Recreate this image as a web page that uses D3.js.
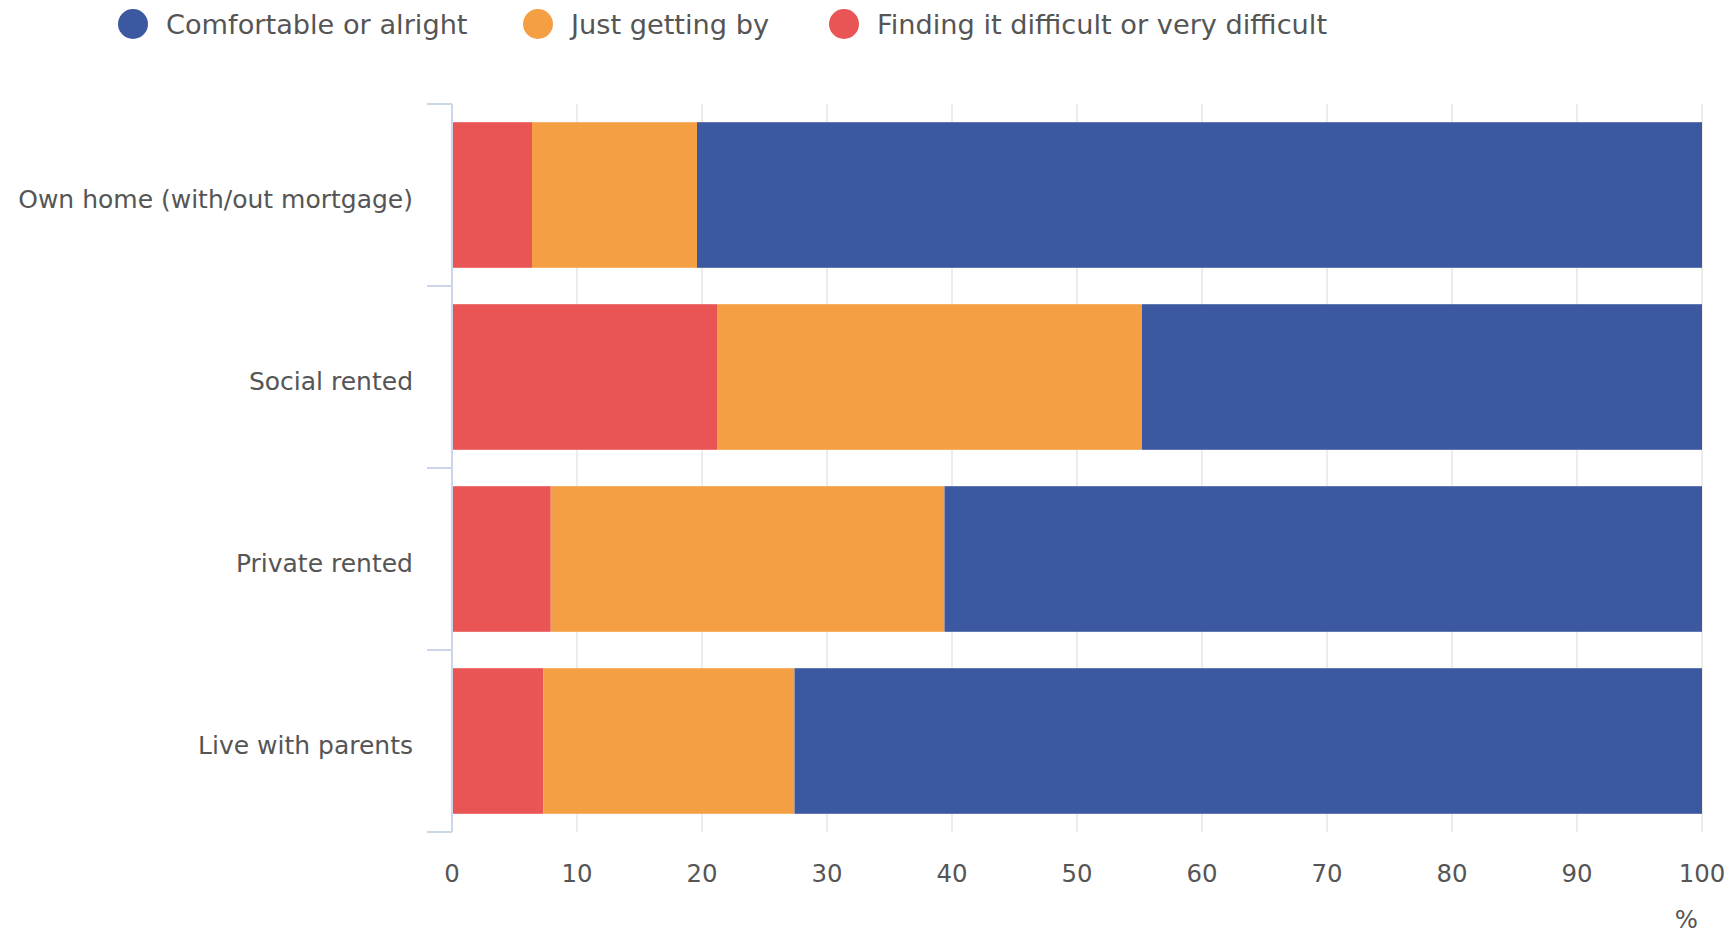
<!DOCTYPE html>
<html>
<head>
<meta charset="utf-8">
<script src="https://cdn.jsdelivr.net/npm/d3@7"></script>
<style>
  html, body { margin: 0; padding: 0; background: #fff; }
  svg { display: block; font-family: "DejaVu Sans", Verdana, sans-serif; }
</style>
</head>
<body>
<svg id="chart" width="1733" height="934"></svg>
<script>
// ---- data ----
const categories = ["Own home (with/out mortgage)", "Social rented", "Private rented", "Live with parents"];
const seriesNames = ["Finding it difficult or very difficult", "Just getting by", "Comfortable or alright"];
const difficult = [6.4, 21.2, 7.9, 7.3];
const gettingBy = [13.2, 34.0, 31.5, 20.1];
const comfortable = [80.4, 44.8, 60.6, 72.6];
const xTicks = [0, 10, 20, 30, 40, 50, 60, 70, 80, 90, 100];
const legendOrder = ["Comfortable or alright", "Just getting by", "Finding it difficult or very difficult"];
const colors = {
  "Comfortable or alright": "#3b58a0",
  "Just getting by": "#f59f45",
  "Finding it difficult or very difficult": "#e95454"
};

const svg = d3.select("#chart");
const textColor = "#555555";

const margin = { left: 452, right: 31, top: 104, bottom: 102 };
const W = 1733, H = 934;

const x = d3.scaleLinear().domain([0, 100]).range([margin.left, W - margin.right]);
const y = d3.scaleBand().domain(categories).range([margin.top, H - margin.bottom])
  .paddingInner(0.2).paddingOuter(0.1);

// grid
svg.append("g").selectAll("line").data(xTicks).join("line")
  .attr("x1", d => x(d)).attr("x2", d => x(d))
  .attr("y1", margin.top).attr("y2", H - margin.bottom)
  .attr("stroke", "#e6e6e6").attr("stroke-width", 1.5);

// stacked bars
const rows = categories.map((c, i) => ({
  category: c,
  "Finding it difficult or very difficult": difficult[i],
  "Just getting by": gettingBy[i],
  "Comfortable or alright": comfortable[i]
}));
const stack = d3.stack().keys(seriesNames)(rows);

svg.append("g").selectAll("g").data(stack).join("g")
  .attr("fill", s => colors[s.key])
  .selectAll("rect").data(s => s).join("rect")
  .attr("x", d => x(d[0]))
  .attr("width", d => x(d[1]) - x(d[0]))
  .attr("y", d => y(d.data.category))
  .attr("height", y.bandwidth());

// y axis line & ticks at band boundaries
const axisColor = "#ccd6eb";
svg.append("line")
  .attr("x1", margin.left).attr("x2", margin.left)
  .attr("y1", margin.top).attr("y2", H - margin.bottom)
  .attr("stroke", axisColor).attr("stroke-width", 2);
const boundaries = categories.map(c => y(c) - y.step() * y.paddingInner() / 2);
boundaries.push(H - margin.bottom);
boundaries[0] = margin.top;
svg.append("g").selectAll("line").data(boundaries).join("line")
  .attr("x1", margin.left - 25).attr("x2", margin.left)
  .attr("y1", d => d).attr("y2", d => d)
  .attr("stroke", axisColor).attr("stroke-width", 2);

// category labels
svg.append("g").selectAll("text").data(categories).join("text")
  .attr("x", 413)
  .attr("y", d => y(d) + y.bandwidth() / 2 + 6)
  .attr("text-anchor", "end")
  .attr("dominant-baseline", "middle")
  .attr("fill", textColor)
  .attr("font-size", 25)
  .text(d => d);

// x tick labels
svg.append("g").selectAll("text").data(xTicks).join("text")
  .attr("x", d => x(d))
  .attr("y", 875)
  .attr("text-anchor", "middle")
  .attr("dominant-baseline", "middle")
  .attr("fill", textColor)
  .attr("font-size", 24.4)
  .text(d => d);

svg.append("text")
  .attr("x", 1698).attr("y", 921)
  .attr("text-anchor", "end")
  .attr("dominant-baseline", "middle")
  .attr("fill", textColor)
  .attr("font-size", 24.4)
  .text("%");

// legend
const legendX = [133, 538, 844];
const lg = svg.append("g").selectAll("g").data(legendOrder).join("g")
  .attr("transform", (d, i) => `translate(${legendX[i]},24)`);
lg.append("circle").attr("r", 15).attr("fill", d => colors[d]);
lg.append("text")
  .attr("x", 33).attr("y", 2)
  .attr("dominant-baseline", "middle")
  .attr("fill", textColor)
  .attr("font-size", 27.2)
  .text(d => d);
</script>
</body>
</html>
